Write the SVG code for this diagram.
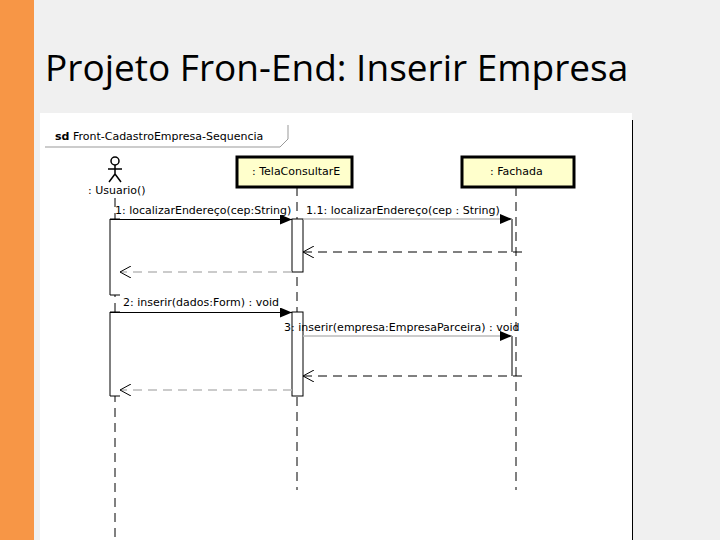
<svg xmlns="http://www.w3.org/2000/svg" width="720" height="540" viewBox="0 0 720 540">
<style>
.t{font-family:"DejaVu Sans",sans-serif;font-size:11px;fill:#000}
.ll{stroke:#000;stroke-width:1;stroke-dasharray:9,6;fill:none}
.msg{stroke:#bbb;stroke-width:1.5;fill:none}
.ret{stroke:#000;stroke-width:1;stroke-dasharray:9,6;fill:none}
.retg{stroke:#bbb;stroke-width:1.5;stroke-dasharray:9,6;fill:none}
.act{fill:#fff;stroke:#000;stroke-width:1}
.obj{fill:#ffffcc;stroke:#000;stroke-width:3}
</style>
<defs>
<marker id="fa" markerWidth="12" markerHeight="10" refX="12" refY="5" orient="auto" markerUnits="userSpaceOnUse"><path d="M0,0L12,5L0,10Z" fill="#000"/></marker>
<marker id="oa" markerWidth="12" markerHeight="12" refX="11" refY="6" orient="auto" markerUnits="userSpaceOnUse"><path d="M0,0L11,6L0,12" fill="none" stroke="#000"/></marker>
</defs>
<rect width="720" height="540" fill="#f0f0f0"/>
<rect width="34" height="540" fill="#f79646"/>
<text x="45" y="81" style="font-family:'Open Sans','DejaVu Sans',sans-serif;font-size:37px;fill:#000">Projeto Fron-End: Inserir Empresa</text>
<rect x="40" y="113" width="592" height="427" fill="#fff"/>
<line x1="632.5" y1="120" x2="632.5" y2="540" stroke="#000"/>
<g id="frame">
<path d="M45,147H280L288,139V125" fill="none" stroke="#999"/>
<text x="55" y="140" class="t"><tspan font-weight="bold">sd</tspan> Front-CadastroEmpresa-Sequencia</text>
</g>
<g id="usuario">
<circle cx="115" cy="161" r="4" fill="#fff" stroke="#000" stroke-width="1.5"/>
<path d="M115,165V174M108,169H122M115,174L109,182M115,174L121,182" stroke="#000" stroke-width="1.5" fill="none"/>
<text x="88" y="194" class="t">: Usuario()</text>
<line x1="115" y1="198" x2="115" y2="540" class="ll"/>
<path d="M120,219H110V295H120" class="act"/>
<path d="M120,312H110V396H120" class="act"/>
</g>
<g id="tela">
<line x1="297" y1="187" x2="297" y2="490" class="ll"/>
<rect x="237" y="157" width="115" height="30" class="obj"/>
<text x="252" y="175" class="t">: TelaConsultarE</text>
<rect x="292" y="219" width="11" height="53" class="act"/>
<rect x="292" y="312" width="11" height="84" class="act"/>
</g>
<g id="fachada">
<line x1="516" y1="187" x2="516" y2="490" class="ll"/>
<rect x="462" y="157" width="112" height="30" class="obj"/>
<text x="490" y="175" class="t">: Fachada</text>
<line x1="512" y1="219" x2="512" y2="252" stroke="#000"/>
<line x1="512" y1="336" x2="512" y2="376" stroke="#000"/>
</g>
<g id="connectors">
<line x1="110" y1="219.5" x2="292" y2="219.5" stroke="#000" marker-end="url(#fa)"/>
<text x="115" y="214" class="t">1: localizarEndereço(cep:String)</text>
<line x1="303" y1="219" x2="512" y2="219" class="msg" marker-end="url(#fa)"/>
<text x="306" y="214" class="t">1.1: localizarEndereço(cep : String)</text>
<line x1="522" y1="252" x2="303" y2="252" class="ret" marker-end="url(#oa)"/>
<line x1="292" y1="272" x2="120" y2="272" class="retg" marker-end="url(#oa)"/>
<line x1="110" y1="312.5" x2="292" y2="312.5" stroke="#000" marker-end="url(#fa)"/>
<text x="123" y="306" class="t">2: inserir(dados:Form) : void</text>
<line x1="303" y1="336" x2="512" y2="336" class="msg" marker-end="url(#fa)"/>
<text x="284" y="331" class="t">3: inserir(empresa:EmpresaParceira) : void</text>
<line x1="522" y1="376" x2="303" y2="376" class="ret" marker-end="url(#oa)"/>
<line x1="292" y1="390" x2="120" y2="390" class="retg" marker-end="url(#oa)"/>
</g>
</svg>
